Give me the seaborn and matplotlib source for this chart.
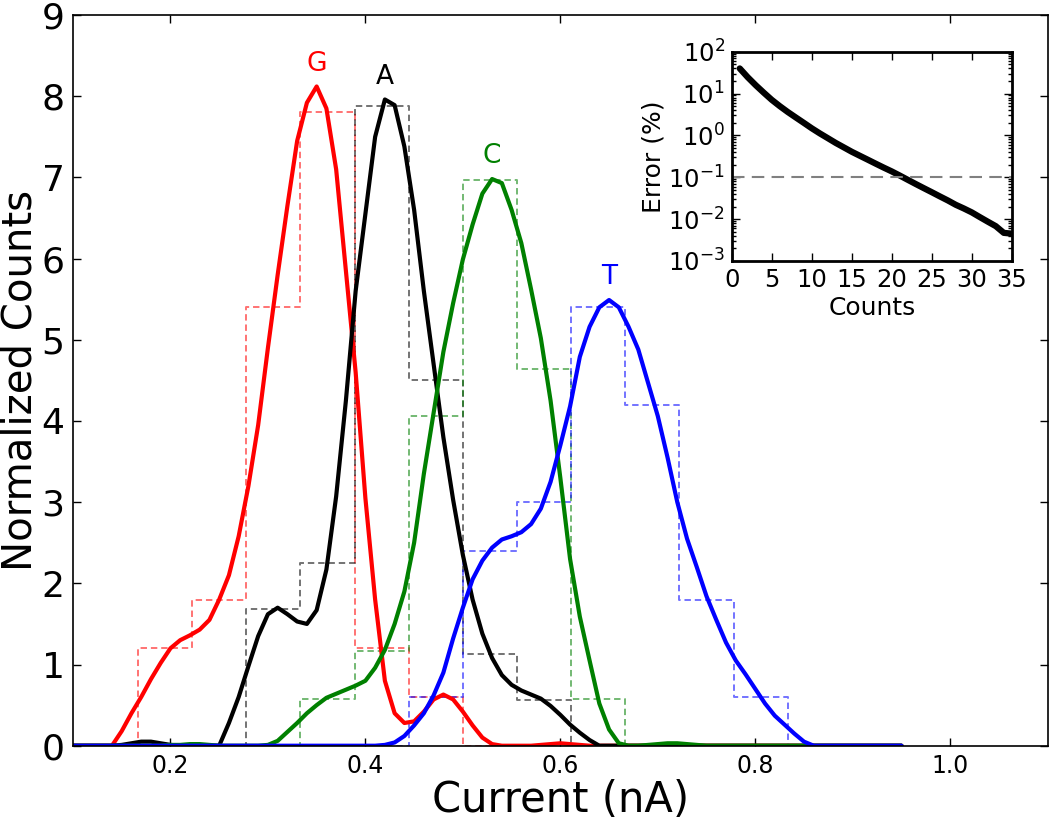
import numpy as np
import pandas as pd
import seaborn as sns
import matplotlib
matplotlib.use("Agg")
import matplotlib.pyplot as plt
from matplotlib.ticker import LogLocator, MultipleLocator, NullFormatter

# bases and colours
bases = ['G', 'A', 'C', 'T']
colors = {'G': '#ff0000', 'A': '#000000', 'C': '#008000', 'T': '#0000ff'}

# histogram: counts per bin, bins are 1/18 nA wide, first bin index per base
# (empty bins at both ends so the outline drops down to zero)
bin_width = 1 / 18
first_bin = {'G': 2, 'A': 4, 'C': 5, 'T': 7}
hist_counts = {
    'G': [0, 2, 3, 9, 13, 2, 1, 0],
    'A': [0, 3, 4, 14, 8, 2, 1, 0],
    'C': [0, 1, 2, 7, 12, 8, 1, 0],
    'T': [0, 1, 4, 5, 9, 7, 3, 1, 0],
}

# smoothed curves sampled on 0.10 .. 0.95 nA (step 0.01)
current = np.linspace(0.10, 0.95, 86)
curve_G = [0, 0, 0, 0, 0, 0.18, 0.40, 0.60, 0.82, 1.02,
           1.20, 1.30, 1.36, 1.43, 1.55, 1.80, 2.10, 2.58, 3.20, 3.95,
           4.90, 5.80, 6.65, 7.45, 7.92, 8.12, 7.85, 7.10, 5.85, 4.60,
           3.05, 1.80, 0.80, 0.40, 0.28, 0.30, 0.42, 0.57, 0.63, 0.57,
           0.42, 0.25, 0.10, 0.02, 0, 0, 0, 0, 0.01, 0.02,
           0.03, 0.02, 0.01, 0, 0, 0, 0, 0, 0, 0,
           0, 0, 0, 0, 0, 0, 0, 0, 0, 0,
           0, 0, 0, 0, 0, 0, 0, 0, 0, 0,
           0, 0, 0, 0, 0, 0]
curve_A = [0, 0, 0, 0, 0, 0.01, 0.03, 0.05, 0.05, 0.03,
           0.01, 0, 0, 0, 0, 0, 0.28, 0.60, 0.98, 1.35,
           1.62, 1.70, 1.62, 1.53, 1.50, 1.67, 2.17, 3.07, 4.25, 5.60,
           6.55, 7.50, 7.96, 7.89, 7.38, 6.60, 5.60, 4.70, 3.80, 3.03,
           2.35, 1.80, 1.38, 1.08, 0.87, 0.75, 0.68, 0.63, 0.58, 0.49,
           0.38, 0.26, 0.16, 0.07, 0, 0, 0, 0, 0, 0,
           0, 0, 0, 0, 0, 0, 0, 0, 0, 0,
           0, 0, 0, 0, 0, 0, 0, 0, 0, 0,
           0, 0, 0, 0, 0, 0]
curve_C = [0, 0, 0, 0, 0, 0, 0, 0, 0, 0,
           0.01, 0.01, 0.02, 0.02, 0.01, 0, 0, 0, 0, 0,
           0.01, 0.06, 0.17, 0.28, 0.40, 0.50, 0.59, 0.64, 0.69, 0.74,
           0.80, 0.96, 1.18, 1.50, 1.90, 2.50, 3.35, 4.10, 4.85, 5.45,
           5.99, 6.42, 6.80, 6.98, 6.93, 6.60, 6.19, 5.62, 5.02, 4.25,
           3.30, 2.30, 1.59, 1.05, 0.52, 0.20, 0.03, 0, 0, 0.01,
           0.02, 0.03, 0.03, 0.02, 0.01, 0, 0, 0, 0, 0,
           0, 0, 0, 0, 0, 0, 0, 0, 0, 0,
           0, 0, 0, 0, 0, 0]
curve_T = [0, 0, 0, 0, 0, 0, 0, 0, 0, 0,
           0, 0, 0, 0, 0, 0, 0, 0, 0, 0,
           0, 0, 0, 0, 0, 0, 0, 0, 0, 0,
           0, 0, 0.01, 0.04, 0.12, 0.25, 0.40, 0.62, 0.90, 1.32,
           1.70, 2.05, 2.28, 2.44, 2.54, 2.58, 2.63, 2.73, 2.92, 3.25,
           3.70, 4.18, 4.79, 5.16, 5.40, 5.49, 5.40, 5.16, 4.88, 4.47,
           4.06, 3.55, 3.00, 2.55, 2.20, 1.84, 1.55, 1.27, 1.05, 0.88,
           0.70, 0.52, 0.37, 0.26, 0.15, 0.05, 0, 0, 0, 0,
           0, 0, 0, 0, 0, 0]
curves = {'G': curve_G, 'A': curve_A, 'C': curve_C, 'T': curve_T}

# inset: error vs number of counts
counts_n = np.arange(1, 36)
error_pct = [39.8, 24.5, 15.8, 10.5, 7.08, 5.01, 3.63, 2.69, 2.00, 1.48,
             1.12, 0.861, 0.661, 0.519, 0.407, 0.327, 0.263, 0.211, 0.170, 0.138,
             0.110, 0.087, 0.069, 0.055, 0.044, 0.035, 0.028, 0.022, 0.018, 0.0145,
             0.0112, 0.0087, 0.0068, 0.0047, 0.0045]
error_threshold = 0.1

sns.set_style('ticks', {'axes.edgecolor': 'black', 'xtick.color': 'black',
                        'ytick.color': 'black', 'text.color': 'black',
                        'axes.labelcolor': 'black',
                        'xtick.direction': 'in', 'ytick.direction': 'in'})
plt.rcParams['font.family'] = ['DejaVu Sans']

fig = plt.figure(figsize=(10.5, 8.22), dpi=100)
ax = fig.add_axes([0.0695, 0.0928, 0.9283, 0.8889])

# dashed histograms
for b in bases:
    cnt = hist_counts[b]
    edges = (first_bin[b] + np.arange(len(cnt) + 1)) * bin_width
    df = pd.DataFrame({'current': edges[:-1] + bin_width / 2, 'n': cnt})
    sns.histplot(data=df, x='current', weights='n', binwidth=bin_width,
                 binrange=(edges[0], edges[-1]), stat='density',
                 element='step', fill=False, color=colors[b], alpha=0.55,
                 linewidth=1.4, linestyle=(0, (3.3, 2)), ax=ax)

# smoothed curves + letters
for b in bases:
    y = np.array(curves[b])
    sns.lineplot(x=current, y=y, color=colors[b], linewidth=3, ax=ax)
    i = int(np.argmax(y))
    ax.text(current[i], y[i] + 0.12, b, color=colors[b], fontsize=19,
            ha='center', va='bottom')

ax.set_xlim(0.1, 1.1)
ax.set_ylim(0, 9)
ax.xaxis.set_major_locator(MultipleLocator(0.2))
ax.yaxis.set_major_locator(MultipleLocator(1))
ax.tick_params(axis='x', labelsize=17, top=True, length=6, width=1, pad=6)
ax.tick_params(axis='y', labelsize=26, right=True, length=6, width=1, pad=6)
ax.set_xlabel('Current (nA)', fontsize=30, labelpad=1)
ax.set_ylabel('Normalized Counts', fontsize=29)
ax.yaxis.set_label_coords(-0.033, 0.5)
for s in ax.spines.values():
    s.set_linewidth(1.2)

# inset
axin = fig.add_axes([0.6969, 0.6825, 0.2667, 0.2546])
sns.lineplot(x=counts_n, y=error_pct, color='black', linewidth=4.5, ax=axin)
axin.axhline(error_threshold, color='gray', linewidth=1.5, linestyle=(0, (6, 3.5)))
axin.set_yscale('log')
axin.set_xlim(0, 35)
axin.set_ylim(1e-3, 1e2)
axin.xaxis.set_major_locator(MultipleLocator(5))
axin.yaxis.set_major_locator(LogLocator(base=10, numticks=10))
axin.yaxis.set_minor_locator(LogLocator(base=10, subs=np.arange(2, 10), numticks=20))
axin.yaxis.set_minor_formatter(NullFormatter())
axin.tick_params(which='both', top=True, right=True, labelsize=17.5, width=1)
axin.tick_params(which='major', length=6, pad=5)
axin.tick_params(which='minor', length=3)
axin.set_xlabel('Counts', fontsize=18, labelpad=3)
axin.set_ylabel('Error (%)', fontsize=18, labelpad=2)
for s in axin.spines.values():
    s.set_linewidth(2)

fig.savefig('out.png', dpi=100)
